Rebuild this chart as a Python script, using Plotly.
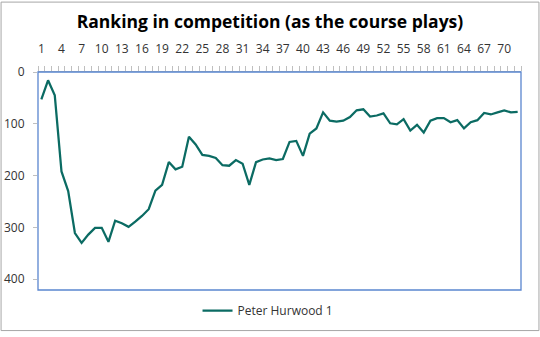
import plotly.graph_objects as go

holes = list(range(1, 73))
ranking = [53, 16, 45, 192, 230, 311, 330, 314, 301, 301, 328, 287, 292, 299, 289, 278,
           265, 229, 218, 174, 188, 183, 125, 140, 160, 162, 166, 180, 181, 170, 177, 218,
           174, 169, 167, 170, 168, 135, 133, 162, 119, 109, 78, 94, 96, 94, 87, 74,
           72, 86, 84, 80, 99, 101, 91, 113, 102, 117, 94, 89, 89, 97, 93, 109, 97, 93,
           79, 82, 78, 74, 78, 77]
tick_labels = [str(v) for v in range(1, 73, 3)]
series_name = "Peter Hurwood 1"
title_text = "Ranking in competition (as the course plays)"

L, R, T, B = 37.5, 18.5, 72, 42
W, H = 540, 337
pw, ph = W - L - R, H - T - B

fig = go.Figure()
fig.add_trace(go.Scatter(
    x=holes, y=ranking, mode="lines", name=series_name,
    line=dict(color="#0b6b63", width=2.25),
))

font_family = "Open Sans, Noto Sans, sans-serif"

fig.update_layout(
    width=W, height=H,
    margin=dict(l=L, r=R, t=T, b=B, pad=0),
    paper_bgcolor="white", plot_bgcolor="white",
    title=dict(text="<b>" + title_text + "</b>", x=0.5, xanchor="center",
               y=1 - 22 / H, yanchor="middle",
               font=dict(family=font_family, size=17.5, color="#000000")),
    showlegend=True,
    legend=dict(orientation="h", x=(268 - L) / pw, xanchor="center",
                y=-(316 - (T + ph)) / ph, yanchor="middle",
                font=dict(family=font_family, size=12, color="#333333"),
                bgcolor="rgba(0,0,0,0)"),
    xaxis=dict(
        side="top", range=[0.5, 72.5], automargin=False,
        tickmode="array", tickvals=list(range(1, 73, 3)), ticktext=tick_labels,
        ticks="", showgrid=False, zeroline=False,
        showline=True, linecolor="#bfbfbf", linewidth=1,
        tickfont=dict(family=font_family, size=12, color="#333333"),
        ticklabelstandoff=13,
        minor=dict(ticks="outside", tick0=0.5, dtick=1, ticklen=5,
                   tickcolor="#bfbfbf", tickwidth=1, showgrid=False),
    ),
    yaxis=dict(
        range=[421, 0], tickvals=[0, 100, 200, 300, 400], automargin=False,
        ticks="outside", ticklen=4, tickcolor="#bfbfbf",
        showgrid=False, zeroline=False, showline=False,
        ticklabelstandoff=6,
        tickfont=dict(family=font_family, size=12, color="#333333"),
    ),
    shapes=[
        dict(type="rect", xref="paper", yref="paper", x0=0, x1=1, y0=0, y1=1,
             line=dict(color="#5a86cf", width=1.3), fillcolor="rgba(0,0,0,0)"),
        dict(type="rect", xref="paper", yref="paper",
             x0=(-L + 0.5) / pw, x1=(pw + R - 0.5) / pw,
             y0=(-B + 0.5) / ph, y1=(ph + T - 0.5) / ph,
             line=dict(color="#a6a6a6", width=1), fillcolor="rgba(0,0,0,0)"),
    ],
)

fig.write_html("out.html")
